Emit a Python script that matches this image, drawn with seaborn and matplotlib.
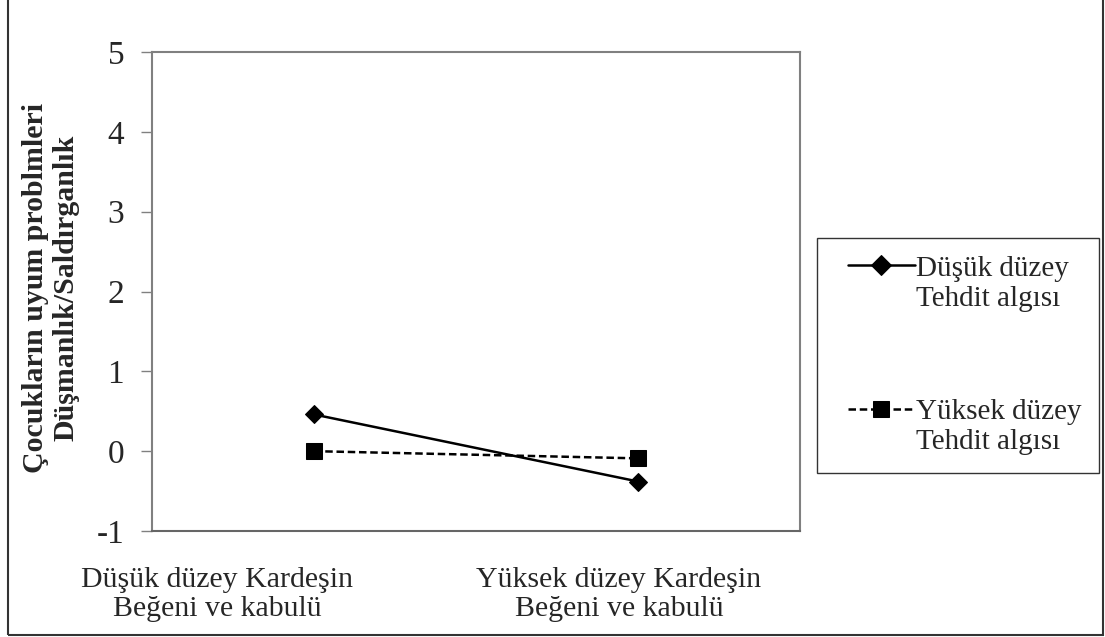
import matplotlib
matplotlib.use("Agg")
import matplotlib.pyplot as plt
import matplotlib.transforms as mtransforms
import seaborn as sns
import pandas as pd
from matplotlib.patches import Rectangle
from matplotlib.legend_handler import HandlerLine2D

categories = ["Düşük düzey Kardeşin\nBeğeni ve kabulü", "Yüksek düzey Kardeşin\nBeğeni ve kabulü"]
series_names = ["Düşük düzey\nTehdit algısı", "Yüksek düzey\nTehdit algısı"]
low_threat = [0.46, -0.38]
high_threat = [0.00, -0.09]
y_ticks = [-1, 0, 1, 2, 3, 4, 5]
y_label = "Çocukların uyum problmleri\nDüşmanlık/Saldırganlık"

df = pd.DataFrame({
    "cat": categories * 2,
    "value": low_threat + high_threat,
    "series": [series_names[0]] * 2 + [series_names[1]] * 2,
})

sns.set_style("white")
plt.rcParams["font.family"] = ["Liberation Serif", "DejaVu Serif"]

fig = plt.figure(figsize=(11.05, 6.37), dpi=100)
ax = fig.add_axes([152 / 1105, 1 - 531 / 637, (800 - 152) / 1105, (531 - 52) / 637])

sns.lineplot(data=df, x="cat", y="value", hue="series", style="series",
             palette=["black", "black"], markers=["D", "s"],
             dashes=[(None, None), (3, 1.5)], linewidth=1.8,
             markeredgecolor="black", ax=ax, sort=False)
marker_sizes = [9.5, 11]
for line, ms in zip(ax.get_lines(), marker_sizes):
    line.set_markersize(ms)

ax.set_xlim(-0.5, 1.5)
ax.set_ylim(-1, 5)
ax.set_yticks(y_ticks)
ax.set_yticklabels([str(t) for t in y_ticks], fontsize=24)
ax.set_xticks(range(len(categories)))
ax.set_xticklabels(categories, fontsize=21.5, linespacing=1.15)
ax.tick_params(axis="x", length=0, pad=26)
ax.tick_params(axis="y", length=8, width=1, color="#808080", direction="out", pad=12, left=True)
for lbl, dx in zip(ax.get_xticklabels(), [-97, -19]):
    lbl.set_transform(lbl.get_transform() + mtransforms.ScaledTranslation(dx / 100, 0, fig.dpi_scale_trans))
ax.set_xlabel("")
ax.set_ylabel("")
for s in ax.spines.values():
    s.set_visible(True)
    s.set_color("#808080")
    s.set_linewidth(1.5)
ax.spines["bottom"].set_color("#666666")

fig.text(51 / 1105, 1 - 288 / 637, y_label, rotation=90, ha="center", va="center",
         fontsize=21.5, fontweight="bold", linespacing=1.15)


class TopHandler(HandlerLine2D):
    def create_artists(self, legend, orig_handle, xdescent, ydescent, width, height, fontsize, trans):
        artists = super().create_artists(legend, orig_handle, xdescent, ydescent,
                                         width, height, fontsize, trans)
        for a in artists:
            a.set_ydata([y + fontsize * 0.62 for y in a.get_ydata()])
            a.set_xdata([x + fontsize * 0.45 for x in a.get_xdata()])
        return artists


handles, labels = ax.get_legend_handles_labels()
for h, ms in zip(handles, [10.5, 12]):
    h.set_markersize(ms)
if ax.legend_:
    ax.legend_.remove()
leg = fig.legend(handles, labels, loc="upper left",
                 bbox_to_anchor=(817 / 1105, 1 - 238 / 637), frameon=True,
                 fontsize=21, handlelength=2.3, labelspacing=3.0,
                 borderpad=0.6, borderaxespad=0, handletextpad=0.5, fancybox=False,
                 handler_map={h: TopHandler() for h in handles})
leg.get_frame().set_edgecolor("black")
leg.get_frame().set_linewidth(1.0)

fig.patches.append(Rectangle((8 / 1105, 1 - 635 / 637), (1103 - 8) / 1105, 1.1,
                             transform=fig.transFigure, fill=False, edgecolor="#333333",
                             linewidth=1.5, clip_on=False))

fig.savefig("out.png", dpi=100)
